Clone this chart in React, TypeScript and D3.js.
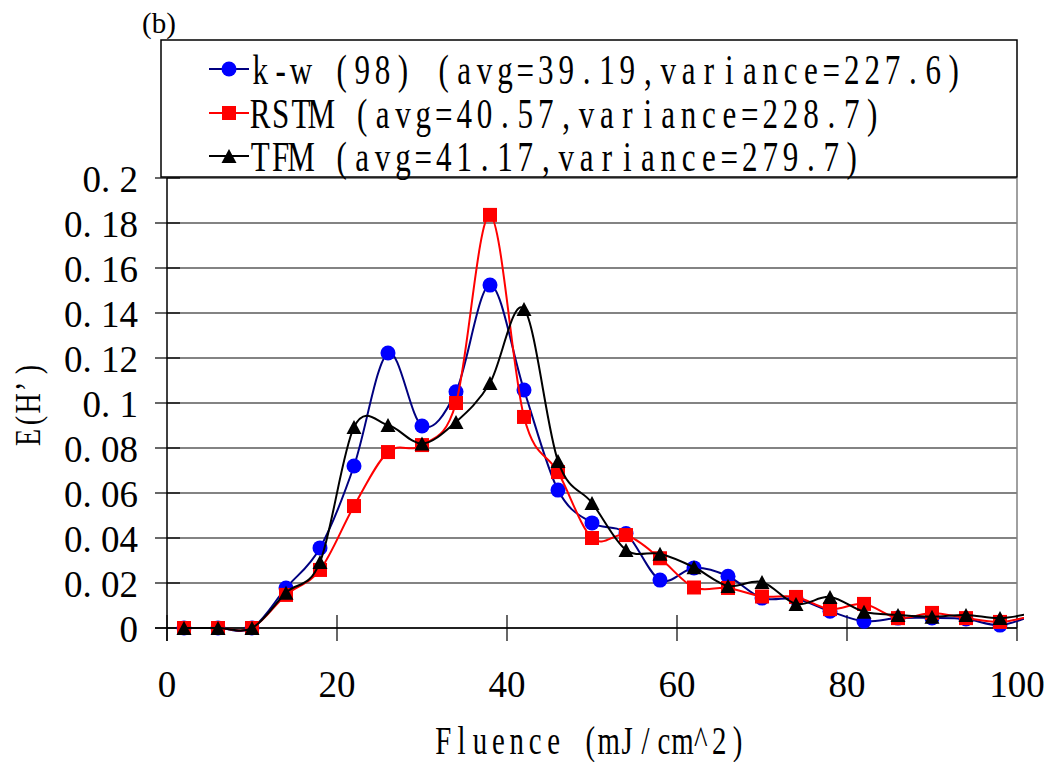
import React from "react";
import * as d3 from "d3";

const fluence = [2, 6, 10, 14, 18, 22, 26, 30, 34, 38, 42, 46, 50, 54, 58, 62, 66, 70, 74, 78, 82, 86, 90, 94, 98, 102];
const kwValues = [0, 0, 0, 0.0178, 0.0356, 0.072, 0.1222, 0.0898, 0.105, 0.1524, 0.1058, 0.0613, 0.0467, 0.042, 0.0213, 0.0267, 0.023, 0.0133, 0.013, 0.0075, 0.003, 0.0044, 0.0045, 0.004, 0.0013, 0.006];
const rstmValues = [0, 0, 0, 0.0147, 0.0258, 0.0542, 0.0782, 0.0813, 0.1, 0.1836, 0.0938, 0.0693, 0.04, 0.0413, 0.031, 0.018, 0.0178, 0.014, 0.0138, 0.0084, 0.0107, 0.0044, 0.0067, 0.0044, 0.0027, 0.0057];
const tfmValues = [0, 0, 0, 0.0157, 0.0293, 0.0893, 0.0902, 0.082, 0.0916, 0.1089, 0.1418, 0.0742, 0.0556, 0.0347, 0.033, 0.027, 0.0187, 0.0205, 0.0107, 0.0138, 0.0072, 0.0058, 0.005, 0.0058, 0.0044, 0.0068];
const legendLabels = [
  "k-w (98) (avg=39.19,variance=227.6)",
  "RSTM (avg=40.57,variance=228.7)",
  "TFM (avg=41.17,variance=279.7)",
];
const yTicks = [0, 0.02, 0.04, 0.06, 0.08, 0.1, 0.12, 0.14, 0.16, 0.18, 0.2];
const yTickLabels = ["0", "0. 02", "0. 04", "0. 06", "0. 08", "0. 1", "0. 12", "0. 14", "0. 16", "0. 18", "0. 2"];
const xTicks = [0, 20, 40, 60, 80, 100];
const xTitle = "Fluence (mJ/cm^2)";
const yTitle = "E(H’)";
const panelLabel = "(b)";

type Series = { name: string; values: number[]; line: string; fill: string; marker: "circle" | "square" | "triangle" };
const series: Series[] = [
  { name: legendLabels[0], values: kwValues, line: "#000080", fill: "#0000ff", marker: "circle" },
  { name: legendLabels[1], values: rstmValues, line: "#ff0000", fill: "#ff0000", marker: "square" },
  { name: legendLabels[2], values: tfmValues, line: "#000000", fill: "#000000", marker: "triangle" },
];

const L = 167, R = 1017, T = 178, B = 628;
const x = d3.scaleLinear().domain([0, 100]).range([L, R]);
const y = d3.scaleLinear().domain([0, 0.2]).range([B, T]);
const SERIF = "Liberation Serif, Times New Roman, DejaVu Serif, serif";

function Marker({ kind, cx, cy, fill }: { kind: string; cx: number; cy: number; fill: string }) {
  if (kind === "circle") return <circle cx={cx} cy={cy} r={7.5} fill={fill} />;
  if (kind === "square") return <rect x={cx - 7} y={cy - 7} width={14} height={14} fill={fill} />;
  const w = 15, h = 14;
  return <path d={`M${cx},${cy - h / 2}L${cx + w / 2},${cy + h / 2}L${cx - w / 2},${cy + h / 2}Z`} fill={fill} />;
}

// half-width "mincho"-like text: each glyph centred in a fixed cell, horizontally condensed
function MonoText({ text, x0, cell, baseline, size, sx, transform }: { text: string; x0: number; cell: number; baseline: number; size: number; sx: number; transform?: string }) {
  const xs = Array.from(text).map((_, i) => ((x0 + cell / 2 + i * cell) / sx).toFixed(2)).join(" ");
  return (
    <g transform={transform}>
      <text
        x={xs}
        y={baseline}
        transform={`scale(${sx},1)`}
        style={{ fontFamily: SERIF, fontSize: size }}
        textAnchor="middle"
        fill="#000"
      >
        {text}
      </text>
    </g>
  );
}

export default function App() {
  const line = d3
    .line<number>()
    .x((_, i) => x(fluence[i]))
    .y((v) => y(v))
    .curve(d3.curveCardinal.tension(0));

  return (
    <svg width={1050} height={762} style={{ position: "absolute", left: 0, top: 0, background: "#fff" }}>
      <defs>
        <clipPath id="plotclip">
          <rect x={L - 10} y={T - 10} width={R - L + 17} height={B - T + 30} />
        </clipPath>
      </defs>
      <rect x={0} y={0} width={1050} height={762} fill="#fff" />
      {/* gridlines */}
      {yTicks.map((t) => (
        <line key={t} x1={L} x2={R} y1={y(t)} y2={y(t)} stroke="#5a5a5a" strokeWidth={1.5} />
      ))}
      {/* right border */}
      <line x1={R} x2={R} y1={T} y2={B} stroke="#808080" strokeWidth={1.5} />
      {/* axes */}
      <line x1={L} x2={L} y1={T} y2={B + 13} stroke="#000" strokeWidth={1.5} />
      <line x1={L - 12} x2={R} y1={B} y2={B} stroke="#000" strokeWidth={1.5} />
      {yTicks.map((t) => (
        <line key={"yt" + t} x1={L - 12} x2={L + 13} y1={y(t)} y2={y(t)} stroke="#000" strokeWidth={1.2} />
      ))}
      {xTicks.map((t) => (
        <line key={"xt" + t} x1={x(t)} x2={x(t)} y1={B - 13} y2={B + 13} stroke="#000" strokeWidth={1.2} />
      ))}
      {/* tick labels */}
      {yTicks.map((t, i) => (
        <text key={"yl" + t} x={138} y={y(t) + 14} textAnchor="end" style={{ fontFamily: SERIF, fontSize: 37 }} fill="#000">
          {yTickLabels[i]}
        </text>
      ))}
      {xTicks.map((t) => (
        <text key={"xl" + t} x={x(t)} y={697} textAnchor="middle" style={{ fontFamily: SERIF, fontSize: 37 }} fill="#000">
          {t}
        </text>
      ))}
      {/* series */}
      <g clipPath="url(#plotclip)">
        {series.map((s) => (
          <g key={s.name}>
            <path d={line(s.values) || ""} fill="none" stroke={s.line} strokeWidth={2} />
            {s.values.map((v, i) =>
              fluence[i] <= 100 ? <Marker key={i} kind={s.marker} cx={x(fluence[i])} cy={y(v)} fill={s.fill} /> : null
            )}
          </g>
        ))}
      </g>
      {/* legend */}
      <rect x={161} y={40} width={856} height={137} fill="#fff" stroke="#000" strokeWidth={1.5} />
      {series.map((s, i) => {
        const cy = [69, 113, 156][i];
        return (
          <g key={"lg" + i}>
            <line x1={209} x2={249} y1={cy} y2={cy} stroke={s.line} strokeWidth={2} />
            <Marker kind={s.marker} cx={229} cy={cy} fill={s.fill} />
            <MonoText text={s.name} x0={250} cell={20.4} baseline={cy + 15} size={42} sx={0.74} />
          </g>
        );
      })}
      {/* titles */}
      <text x={142} y={33} style={{ fontFamily: SERIF, fontSize: 29 }} fill="#000">
        {panelLabel}
      </text>
      <MonoText text={xTitle} x0={434} cell={18.4} baseline={754} size={39} sx={0.74} />
      <MonoText
        text={yTitle}
        x0={-(T + B) / 2 - 43}
        cell={17}
        baseline={0}
        size={35}
        sx={0.8}
        transform="translate(40,0) rotate(-90)"
      />
    </svg>
  );
}
